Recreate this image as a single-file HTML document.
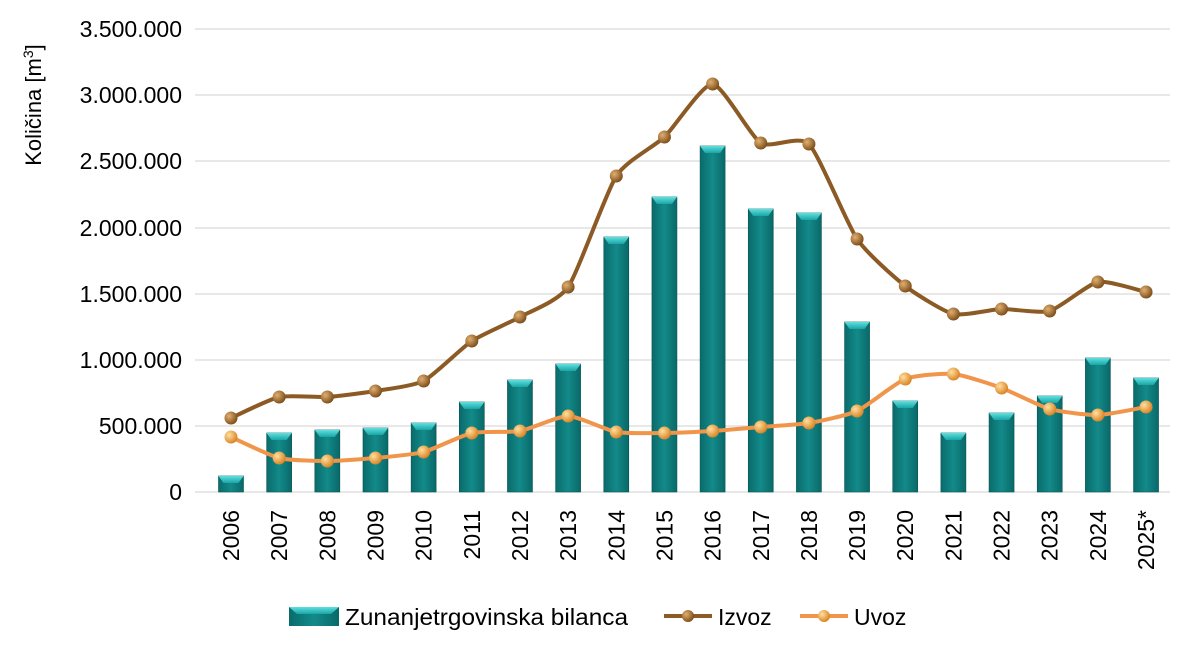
<!DOCTYPE html>
<html><head><meta charset="utf-8"><style>
html,body{margin:0;padding:0;background:#fff;width:1200px;height:658px;overflow:hidden}
svg{display:block;font-family:"Liberation Sans",sans-serif}
</style></head><body>
<svg id="c" width="1200" height="658" viewBox="0 0 1200 658">
<defs>
<linearGradient id="bar" x1="0" x2="1" y1="0" y2="0">
<stop offset="0" stop-color="#0a6b6b"/><stop offset="0.5" stop-color="#138a8a"/><stop offset="1" stop-color="#0a6868"/>
</linearGradient>
<linearGradient id="cap" x1="0" x2="0" y1="0" y2="1">
<stop offset="0" stop-color="#5fe0e0"/><stop offset="1" stop-color="#1aa5a5"/>
</linearGradient>
<radialGradient id="dotB" cx="0.35" cy="0.35" r="0.7"><stop offset="0" stop-color="#e0b070"/><stop offset="1" stop-color="#7a4a18"/></radialGradient>
<radialGradient id="dotO" cx="0.35" cy="0.35" r="0.7"><stop offset="0" stop-color="#ffe0a0"/><stop offset="1" stop-color="#d88020"/></radialGradient>
</defs>
<g id="grid" stroke="#d9d9d9" stroke-width="1.3"></g>
<g font-size="23" fill="#000" text-anchor="end">
<text x="182" y="37">3.500.000</text>
<text x="182" y="103">3.000.000</text>
<text x="182" y="169">2.500.000</text>
<text x="182" y="236">2.000.000</text>
<text x="182" y="302">1.500.000</text>
<text x="182" y="368">1.000.000</text>
<text x="182" y="434">500.000</text>
<text x="182" y="500">0</text>
</g>
<text transform="translate(41,105) rotate(-90)" font-size="22" text-anchor="middle">Količina [m<tspan font-size="14" dy="-8">3</tspan><tspan dy="8">]</tspan></text>
<g id="bars"></g>
<g id="lines"></g>
<g font-size="23" text-anchor="end" id="yrs">
<text transform="translate(239,510) rotate(-90)">2006</text>
<text transform="translate(287.2,510) rotate(-90)">2007</text>
<text transform="translate(335.3,510) rotate(-90)">2008</text>
<text transform="translate(383.5,510) rotate(-90)">2009</text>
<text transform="translate(431.6,510) rotate(-90)">2010</text>
<text transform="translate(479.8,510) rotate(-90)">2011</text>
<text transform="translate(528,510) rotate(-90)">2012</text>
<text transform="translate(576.1,510) rotate(-90)">2013</text>
<text transform="translate(624.3,510) rotate(-90)">2014</text>
<text transform="translate(672.4,510) rotate(-90)">2015</text>
<text transform="translate(720.6,510) rotate(-90)">2016</text>
<text transform="translate(768.8,510) rotate(-90)">2017</text>
<text transform="translate(816.9,510) rotate(-90)">2018</text>
<text transform="translate(865.1,510) rotate(-90)">2019</text>
<text transform="translate(913.2,510) rotate(-90)">2020</text>
<text transform="translate(961.4,510) rotate(-90)">2021</text>
<text transform="translate(1009.6,510) rotate(-90)">2022</text>
<text transform="translate(1057.7,510) rotate(-90)">2023</text>
<text transform="translate(1105.9,510) rotate(-90)">2024</text>
<text transform="translate(1154,510) rotate(-90)">2025*</text>
</g>
<g font-size="23">
<rect x="289" y="607" width="50" height="19" fill="url(#bar)"/>
<polygon points="289,607 339,607 331,614 297,614" fill="url(#cap)"/>
<text x="345" y="625" textLength="283" lengthAdjust="spacingAndGlyphs">Zunanjetrgovinska bilanca</text>
<line x1="664" y1="616" x2="712" y2="616" stroke="#8c5a24" stroke-width="4"/>
<circle cx="688" cy="616" r="6" fill="url(#dotB)"/>
<text x="718" y="625">Izvoz</text>
<line x1="800" y1="616" x2="848" y2="616" stroke="#f0954a" stroke-width="4"/>
<circle cx="824" cy="616" r="6" fill="url(#dotO)"/>
<text x="854" y="625">Uvoz</text>
</g>
</svg>
<script>
var NS="http://www.w3.org/2000/svg";
function el(t,a,p){var e=document.createElementNS(NS,t);for(var k in a)e.setAttribute(k,a[k]);p.appendChild(e);return e;}
var g=document.getElementById("grid");
[29,95,161,228,294,360,426,492].forEach(function(y){el("line",{x1:195,x2:1170,y1:y,y2:y},g);});
var xs=[];for(var i=0;i<20;i++)xs.push(231+48.16*i);
var bt=[476,433,430,428,423,402,380,364,237,197,146,209,213,322,401,433,413,396,358,378];
var b=document.getElementById("bars");
xs.forEach(function(x,i){var t=bt[i],w=25;
el("rect",{x:x-w/2,y:t,width:w,height:492-t,fill:"url(#bar)",stroke:"#075555","stroke-width":0.6},b);
el("polygon",{points:(x-w/2)+","+t+" "+(x+w/2)+","+t+" "+(x+w/2-5)+","+(t+7)+" "+(x-w/2+5)+","+(t+7),fill:"url(#cap)"},b);});
var iz=[418,397,397,391,381,341,317,287,176,137,84,143,144,239,286,314,309,311,282,292];
var uv=[437,458,461,458,452,433,431,416,432,433,431,427,423,411,379,374,388,409,415,407];
function path(ys){var p=[];xs.forEach(function(x,i){p.push([x,ys[i]]);});
var d="M"+p[0][0]+","+p[0][1];
for(var i=0;i<p.length-1;i++){var p0=p[i-1]||p[i],p1=p[i],p2=p[i+1],p3=p[i+2]||p2,t=0.1;
d+=" C"+(p1[0]+(p2[0]-p0[0])*t)+","+(p1[1]+(p2[1]-p0[1])*t)+" "+(p2[0]-(p3[0]-p1[0])*t)+","+(p2[1]-(p3[1]-p1[1])*t)+" "+p2[0]+","+p2[1];}
return d;}
var L=document.getElementById("lines");
el("path",{d:path(uv),fill:"none",stroke:"#f0954a","stroke-width":4},L);
el("path",{d:path(iz),fill:"none",stroke:"#8c5a24","stroke-width":4},L);
xs.forEach(function(x,i){el("circle",{cx:x,cy:uv[i],r:6.5,fill:"url(#dotO)"},L);el("circle",{cx:x,cy:iz[i],r:6.5,fill:"url(#dotB)"},L);});
</script>
</body></html>
